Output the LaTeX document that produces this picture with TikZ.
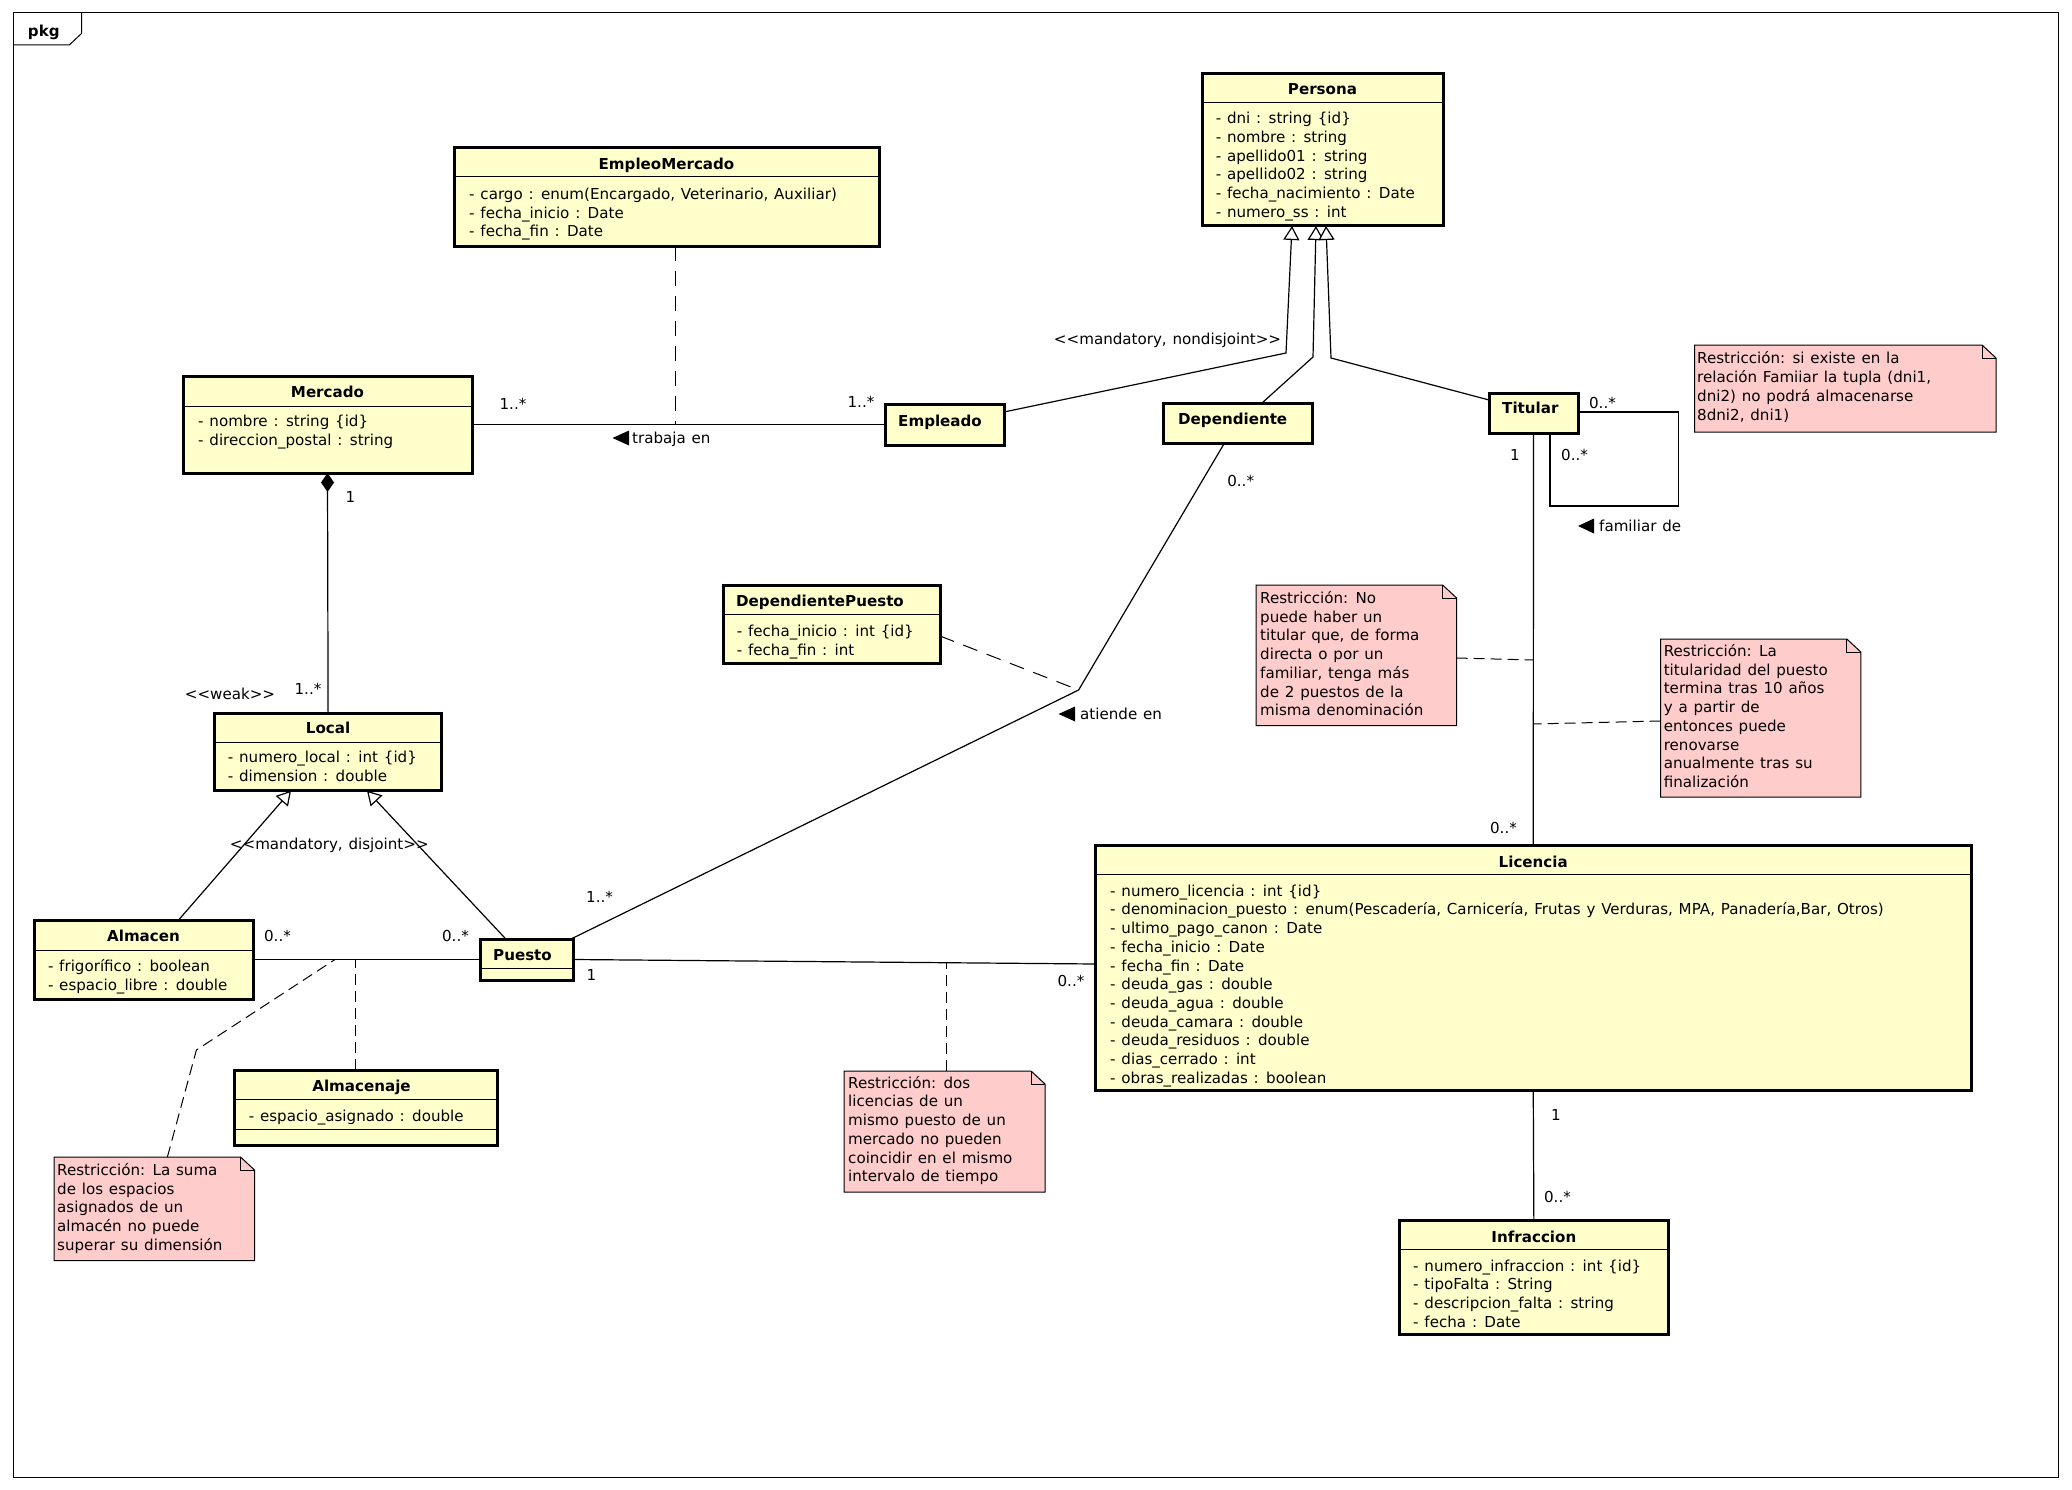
\documentclass[tikz,border=0pt]{standalone}
\usepackage{fontspec}
\setmainfont{DejaVu Sans}
\usetikzlibrary{arrows.meta,calc}
\definecolor{clsfill}{HTML}{FFFFCC}
\definecolor{notefill}{HTML}{FFCCCC}
\newcommand\fs{\fontsize{15.1}{18.7}\selectfont\spaceskip=5.8pt\relax}
\newcommand\tlines[5]{%
  \foreach \myline [count=\idx from 0] in {#5} {%
    \node[txt] (#1-\idx) at (#2, {#3+\idx*#4}) {\myline};}}
\newcommand\mknote[5]{%
  \node[notebox, minimum width=#4pt, minimum height=#5pt] (#1) at (#2,#3) {};
  \draw[notebd] (#1.north west) -- ($(#1.north east)+(-14,0)$) -- ($(#1.north east)+(0,13)$) -- (#1.south east) -- (#1.south west) -- cycle;
  \draw[notebd, fill=none] ($(#1.north east)+(-14,0)$) -- ++(0,13) -- ++(14,0);}
\newcommand\mkclass[6]{% name, x, y, w, h, sep offset (0 = none)
  \node[cls, minimum width=#4pt, minimum height=#5pt] (#1) at (#2,#3) {};
  \ifdim #6pt>0pt
    \draw[sepl] ($(#1.north west)+(0,#6)$) -- ($(#1.north east)+(0,#6)$);
  \fi}
\tikzset{
  cls/.style={rectangle, draw=black, line width=3pt, fill=clsfill, inner sep=0pt, outer sep=0pt, anchor=north west},
  sepl/.style={line width=1pt},
  txt/.style={inner sep=0pt, anchor=base west, text=black, font=\fs},
  ttl/.style={inner sep=0pt, anchor=base, text=black, font=\fs\bfseries},
  ttlw/.style={inner sep=0pt, anchor=base west, text=black, font=\fs\bfseries},
  lbl/.style={inner sep=0pt, anchor=base, text=black, font=\fs},
  assoc/.style={line width=1.2pt},
  gen/.style={line width=1.2pt, -{Triangle[length=14pt,width=16pt,fill=white,line width=1.2pt]}},
  dsh/.style={line width=1pt, dash pattern=on 11pt off 6pt},
  dshl/.style={line width=1pt, dash pattern=on 15pt off 10pt},
  notebox/.style={rectangle, inner sep=0pt, outer sep=0pt, anchor=north west},
  notebd/.style={draw=black, line width=1pt, fill=notefill},
}
\begin{document}
\begin{tikzpicture}[x=1pt,y=-1pt]
\useasboundingbox (0,0) rectangle (2072,1490);
% frame
\draw[line width=1pt] (13,13) rectangle (2058,1477);
\draw[line width=1pt] (13,45) -- (69.3,45) -- (81.7,33.3) -- (81.7,13);
\node[ttl] (pkg) at (43.8,37) {pkg};

% ---------- classes ----------
\mkclass{em}{454}{148}{425}{98}{29}
\node[ttl] (em-t) at ($(em.north)+(0,21.5)$) {EmpleoMercado};
\tlines{ema}{469}{199.5}{18.7}{{- cargo : enum(Encargado, Veterinario, Auxiliar)},{- fecha\_inicio : Date},{- fecha\_fin : Date}}

\mkclass{mer}{183}{376}{289}{97}{30}
\node[ttl] (mer-t) at ($(mer.north)+(0,21.5)$) {Mercado};
\tlines{mera}{198}{426.5}{18.7}{{- nombre : string \{id\}},{- direccion\_postal : string}}

\mkclass{per}{1202}{74}{241}{152}{29}
\node[ttl] (per-t) at ($(per.north)+(0,20.5)$) {Persona};
\tlines{pera}{1215.6}{123.5}{18.8}{{- dni : string \{id\}},{- nombre : string},{- apellido01 : string},{- apellido02 : string},{- fecha\_nacimiento : Date},{- numero\_ss : int}}

\mkclass{empl}{885}{404}{119}{41}{0}
\node[ttlw] (empl-t) at (898,426.5) {Empleado};

\mkclass{dep}{1163}{403}{149}{40}{0}
\node[ttlw] (dep-t) at (1178,424.5) {Dependiente};

\mkclass{tit}{1489}{393}{89}{40}{0}
\node[ttlw] (tit-t) at (1502,413.5) {Titular};

\mkclass{dp}{723}{585}{217}{78}{29}
\node[ttlw] (dp-t) at (736,606.5) {DependientePuesto};
\tlines{dpa}{736.6}{636.5}{18.7}{{- fecha\_inicio : int \{id\}},{- fecha\_fin : int}}

\mkclass{loc}{214.7}{713}{226.8}{77.7}{29}
\node[ttl] (loc-t) at ($(loc.north)+(0,20.5)$) {Local};
\tlines{loca}{227.7}{762.5}{18.7}{{- numero\_local : int \{id\}},{- dimension : double}}

\mkclass{alm}{34}{920}{219}{79}{30}
\node[ttl] (alm-t) at ($(alm.north)+(0,21.5)$) {Almacen};
\tlines{alma}{47.8}{971.5}{18.7}{{- frigorífico : boolean},{- espacio\_libre : double}}

\mkclass{pue}{480}{939}{93.7}{41}{29}
\node[ttlw] (pue-t) at (493,960.5) {Puesto};

\mkclass{alj}{234}{1070}{263}{75}{29}
\draw[sepl] ($(alj.north west)+(0,59)$) -- ($(alj.north east)+(0,59)$);
\node[ttl] (alj-t) at ($(alj.north)+(-4,21.5)$) {Almacenaje};
\tlines{alja}{248.6}{1121.2}{18.7}{{- espacio\_asignado : double}}

\mkclass{lic}{1095.5}{845}{875.5}{245}{29}
\node[ttl] (lic-t) at ($(lic.north)+(0,22.5)$) {Licencia};
\tlines{lica}{1110}{896.2}{18.7}{{- numero\_licencia : int \{id\}},{- denominacion\_puesto : enum(Pescadería, Carnicería, Frutas y Verduras, MPA, Panadería,Bar, Otros)},{- ultimo\_pago\_canon : Date},{- fecha\_inicio : Date},{- fecha\_fin : Date},{- deuda\_gas : double},{- deuda\_agua : double},{- deuda\_camara : double},{- deuda\_residuos : double},{- dias\_cerrado : int},{- obras\_realizadas : boolean}}

\mkclass{inf}{1399}{1220}{269.7}{114}{29}
\node[ttl] (inf-t) at ($(inf.north)+(0,22.5)$) {Infraccion};
\tlines{infa}{1413}{1271.2}{18.7}{{- numero\_infraccion : int \{id\}},{- tipoFalta : String},{- descripcion\_falta : string},{- fecha : Date}}

% ---------- notes ----------
\mknote{n1}{1694.5}{345}{301.5}{87}
\tlines{n1t}{1697}{363.5}{19}{{Restricción: si existe en la},{relación Famiiar la tupla (dni1,},{dni2) no podrá almacenarse},{8dni2, dni1)}}

\mknote{n2}{1256}{585}{200.6}{140.7}
\tlines{n2t}{1260}{603.5}{18.7}{{Restricción: No},{puede haber un},{titular que, de forma},{directa o por un},{familiar, tenga más},{de 2 puestos de la},{misma denominación}}

\mknote{n3}{1660.6}{639}{200.2}{158}
\tlines{n3t}{1663.6}{656.5}{18.7}{{Restricción: La},{titularidad del puesto},{termina tras 10 años},{y a partir de},{entonces puede},{renovarse},{anualmente tras su},{finalización}}

\mknote{n4}{844}{1071}{201}{121}
\tlines{n4t}{848}{1088.2}{18.7}{{Restricción: dos},{licencias de un},{mismo puesto de un},{mercado no pueden},{coincidir en el mismo},{intervalo de tiempo}}

\mknote{n5}{54}{1157}{200.5}{103.7}
\tlines{n5t}{57}{1175.5}{18.7}{{Restricción: La suma},{de los espacios},{asignados de un},{almacén no puede},{superar su dimensión}}

% ---------- connectors ----------
% trabaja en
\draw[assoc] (mer.east) -- (empl.west);
\coordinate (tjd) at (675,424.5);
\draw[dshl] ($(em.south)+(8.5,0)$) -- (tjd);
\node[lbl] (m1) at (513,409.5) {1..*};
\node[lbl] (m2) at (861,407.5) {1..*};
\fill (612.5,438) -- (629,430.5) -- (629,445.5) -- cycle;
\node[txt] (trab) at (632,443.5) {trabaja en};

% composition Mercado - Local
\draw[assoc, {Diamond[length=19pt,width=13pt]}-] (mer.south) -- (loc.north);
\node[lbl] (m3) at (350.4,502.5) {1};
\node[lbl] (m4) at (308,694.5) {1..*};
\node[lbl] (weak) at (230,699.5) {<{}<weak>{}>};

% Persona generalizations
\coordinate (g1) at (1286,353);
\coordinate (g2) at (1313,357);
\coordinate (g3) at (1331,358);
\draw[gen] ($(empl.north east)+(0,8)$) -- (g1) -- ($(per.south west)+(90,0)$);
\draw[gen] ($(dep.north west)+(99,0)$) -- (g2) -- ($(per.south west)+(114,0)$);
\draw[gen] ($(tit.north west)+(0,7)$) -- (g3) -- ($(per.south west)+(124,0)$);
\node[lbl] (gper) at (1167.5,344.5) {<{}<mandatory, nondisjoint>{}>};

% Local generalizations
\draw[gen] ($(alm.north west)+(144.6,0)$) -- ($(loc.south west)+(76.3,0)$);
\draw[gen] ($(pue.north west)+(25.8,0)$) -- ($(loc.south west)+(152.3,0)$);
\node[lbl] (gloc) at (329.3,849.5) {<{}<mandatory, disjoint>{}>};

% Almacen - Puesto
\draw[assoc] (alm.east) -- (pue.west);
\node[lbl] (m5) at (277.5,941.5) {0..*};
\node[lbl] (m6) at (455.5,941.5) {0..*};
\coordinate (apA) at (355,959.5);
\coordinate (apB) at (335,959.5);
\coordinate (n5b) at (196.4,1050);
\draw[dsh] ($(alj.north west)+(121,0)$) -- (apA);
\draw[dsh] ($(n5.north west)+(113.4,0)$) -- (n5b) -- (apB);

% atiende en
\coordinate (atb) at (1078.6,690);
\draw[assoc] ($(pue.north east)+(-2.7,0)$) -- (atb) -- ($(dep.south west)+(61.5,0)$);
\draw[dshl] ($(dp.east)+(0,12)$) -- (atb);
\node[lbl] (m7) at (599.6,902.5) {1..*};
\node[lbl] (m8) at (1240.7,486.5) {0..*};
\fill (1058.5,714) -- (1075,706.5) -- (1075,721.5) -- cycle;
\node[txt] (atie) at (1080,719.5) {atiende en};

% Puesto - Licencia
\draw[assoc] (pue.east) -- ($(lic.north west)+(0,119)$);
\node[lbl] (m9) at (591.5,980.5) {1};
\node[lbl] (m10) at (1071,986.5) {0..*};
\coordinate (plc) at (946,962.6);
\draw[dsh] ($(n4.north west)+(102,0)$) -- (plc);

% Titular - Licencia
\draw[assoc] (tit.south) -- (lic.north);
\node[lbl] (m11) at (1515,460.5) {1};
\node[lbl] (m12) at (1503.5,833.5) {0..*};
\coordinate (tl1) at (1533.2,660);
\coordinate (tl2) at (1533.2,724);
\draw[dsh] ($(n2.north east)+(0,73)$) -- (tl1);
\draw[dsh] ($(n3.north west)+(0,82)$) -- (tl2);

% Titular self loop (familiar de)
\coordinate (lp1) at (1678.6,412);
\coordinate (lp2) at (1678.6,506);
\coordinate (lp3) at (1550,506);
\draw[assoc] ($(tit.north east)+(0,19)$) -- (lp1) -- (lp2) -- (lp3) -- ($(tit.south west)+(61,0)$);
\node[lbl] (m13) at (1602.5,408.5) {0..*};
\node[lbl] (m14) at (1574.6,460.5) {0..*};
\fill (1578,526) -- (1594,518.5) -- (1594,533.5) -- cycle;
\node[txt] (fami) at (1599,531.5) {familiar de};

% Licencia - Infraccion
\draw[assoc] (lic.south) -- (inf.north);
\node[lbl] (m15) at (1556,1120.5) {1};
\node[lbl] (m16) at (1557.5,1202.5) {0..*};
\end{tikzpicture}
\end{document}
